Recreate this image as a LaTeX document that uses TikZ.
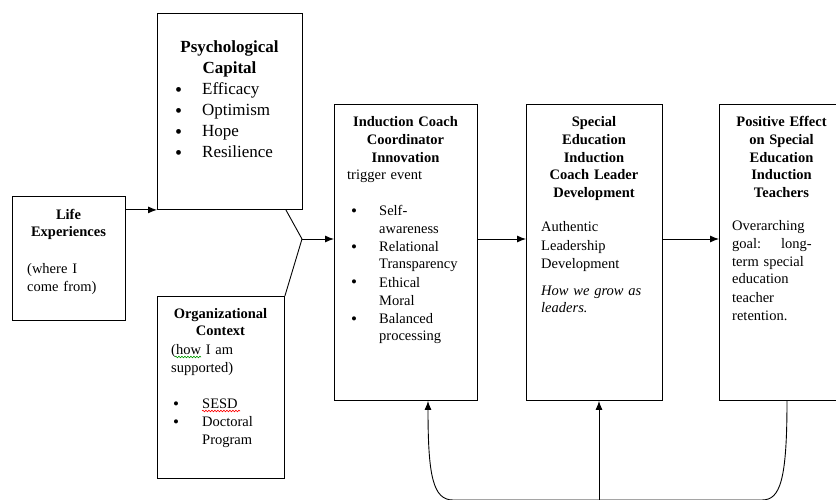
\documentclass[tikz,border=0pt]{standalone}
\usepackage{fontspec}
\setmainfont{Liberation Serif}
\usetikzlibrary{arrows.meta}
\usetikzlibrary{positioning}
\usetikzlibrary{decorations.pathmorphing}
\tikzset{>={Latex[length=9pt,width=7pt]}}
\tikzset{
  box/.style={draw, line width=0.9pt, inner sep=0pt, anchor=north west},
  title/.style={inner sep=0pt, anchor=base, align=center, font=\bfseries\fontsize{14.5}{17.6}\selectfont},
  body/.style={inner sep=0pt, anchor=base west, align=left, font=\fontsize{14.5}{18}\selectfont},
  link/.style={line width=0.9pt},
  squiggle/.style={line width=0.6pt, decorate, decoration={snake, amplitude=0.8pt, segment length=3pt}}
}
\newcommand{\bul}[1]{\makebox[#1][l]{\raisebox{-1pt}{\fontsize{17}{17}\selectfont\textbullet}}}
\newcommand{\bigbul}[1]{\makebox[#1][l]{\raisebox{-1.5pt}{\fontsize{20}{20}\selectfont\textbullet}}}

\begin{document}
\begin{tikzpicture}[x=1pt, y=-1pt]
    \useasboundingbox (0,0) rectangle (836,500);
    \clip (0,0) rectangle (836,500);

    % boxes
    \node [box, minimum width=113pt, minimum height=124pt] (life) at (12,196) {};
    \node [box, minimum width=145pt, minimum height=196pt] (psych) at (157,13) {};
    \node [box, minimum width=127pt, minimum height=182pt] (org) at (157,296) {};
    \node [box, minimum width=143pt, minimum height=296pt] (induct) at (334,104) {};
    \node [box, minimum width=136pt, minimum height=296pt] (special) at (526,104) {};
    \node [box, minimum width=130pt, minimum height=296pt] (positive) at (719,104) {};

    % texts
    \node [title, text width=110pt] (lifetitle) at (68.5,219) {Life\\Experiences};
    \node [body, text width=95pt] (lifebody) at (27,273) {(where I\\come from)};

    \node [title, text width=140pt, font=\bfseries\fontsize{17}{21}\selectfont] (psychtitle) at (229.5,53) {Psychological\\Capital};
    \node [body, text width=125pt, font=\fontsize{17}{21}\selectfont] (psychlist) at (175,95)
        {\bigbul{27pt}Efficacy\\\bigbul{27pt}Optimism\\\bigbul{27pt}Hope\\\bigbul{27pt}Resilience};

    \node [title, text width=124pt] (orgtitle) at (220.5,318) {Organizational\\Context};
    \node [body, text width=110pt] (orgbody) at (171,354) {(how I am\\supported)};
    \node [body, text width=108pt] (orglist) at (173,408)
        {\bul{29pt}SESD\\\bul{29pt}Doctoral\\\hspace*{29pt}Program};
    \draw [squiggle, green!60!black] (175,357) -- (201,357);
    \draw [squiggle, red] (202,411) -- (240,411);

    \node [title, text width=140pt] (inducttitle) at (405.5,127) {Induction Coach\\Coordinator\\Innovation};
    \node [body, text width=125pt] (inductbody) at (347,180) {trigger event};
    \node [body, text width=122pt] (inductlist) at (351,215)
        {\bul{28pt}Self-\\\hspace*{28pt}awareness\\\bul{28pt}Relational\\\hspace*{28pt}Transparency\\%
         \bul{28pt}Ethical\\\hspace*{28pt}Moral\\\bul{28pt}Balanced\\\hspace*{28pt}processing};

    \node [title, text width=132pt] (specialtitle) at (594,127) {Special\\Education\\Induction\\Coach Leader\\Development};
    \node [body, text width=115pt] (specialbody) at (541,232) {Authentic\\Leadership\\Development};
    \node [body, text width=115pt, font=\itshape\fontsize{14.5}{17.5}\selectfont] (specialnote) at (541,295) {How we grow as\\leaders.};

    \node [title, text width=120pt] (positivetitle) at (781.5,127) {Positive Effect\\on Special\\Education\\Induction\\Teachers};
    \node [body, text width=88pt] (positivebody) at (732,230)
        {Overarching\\goal:\hspace{20pt}long-\\term special\\education\\teacher\\retention.};

    % connectors
    \coordinate (join) at (302,239);
    \draw [link, ->] (life.north east |- psych.south west) -- (psych.south west);
    \draw [link] ([xshift=-17pt]psych.south east) -- (join);
    \draw [link] (org.north east) -- (join);
    \draw [link, ->] (join) -- (induct.west |- join);
    \draw [link, ->] (induct.east |- join) -- (special.west |- join);
    \draw [link, ->] (special.east |- join) -- (positive.west |- join);

    % feedback loop
    \coordinate (loopl) at (453,500);
    \coordinate (loopm) at (599,500);
    \coordinate (loopr) at (762,500);
    \draw [link, ->] ([xshift=68pt]positive.south west) .. controls +(0,80) and +(18,0) .. (loopr)
        -- (loopl) .. controls +(-20,0) and +(0,75) .. ([xshift=94pt]induct.south west);
    \draw [link, ->] (loopm) -- (special.south -| loopm);
\end{tikzpicture}
\end{document}
